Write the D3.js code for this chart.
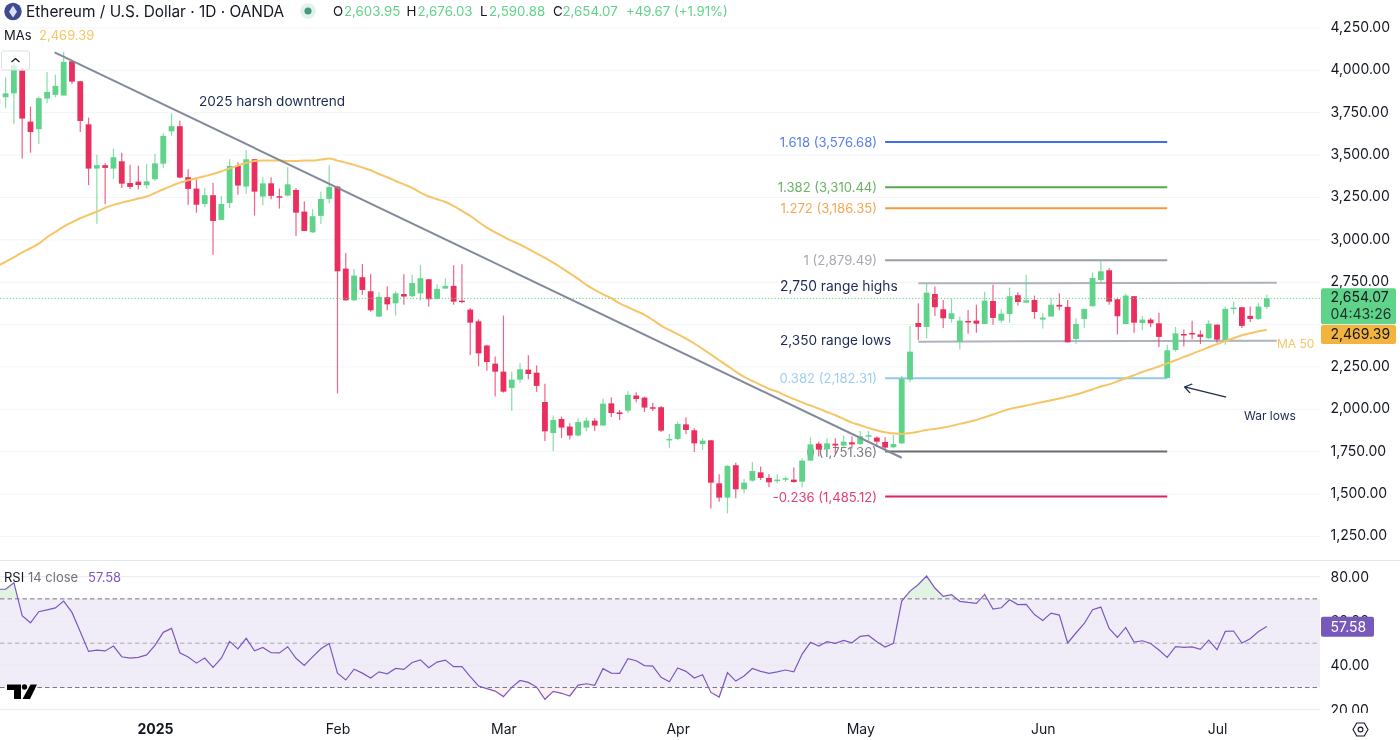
<!DOCTYPE html>
<html>
<head>
<meta charset="utf-8">
<title>ETHUSD</title>
<script src="https://cdn.jsdelivr.net/npm/d3@7"></script>
<style>
    html, body { margin: 0; padding: 0; background: #fff; overflow: hidden; }
    svg { display: block; font-family: Inter, "Noto Sans", sans-serif; filter: blur(0.3px); }
</style>
</head>
<body>
<div id="chart"></div>
<script>
// One value per daily bar. The first bar sits just off the left edge.
const opens = [3800,
    3841,3864,3998,3697,3652,3833,3855,3851,4053,3935,
    3681,3420,3440,3420,3463,3335,3343,3322,3357,3449,
    3640,3670,3369,3302,3211,3263,3117,3217,3436,3314,
    3475,3255,3333,3257,3261,3294,3166,3044,3141,3241,
    3314,2830,2643,2779,2696,2547,2661,2625,2680,2667,
    2684,2767,2651,2712,2728,2641,2588,2519,2376,2269,
    2222,2126,2175,2234,2216,2043,1860,1943,1898,1845,
    1892,1933,1904,2035,1982,1992,2081,2069,2012,2012,
    1821,1825,1911,1876,1795,1817,1563,1479,1670,1528,
    1579,1628,1595,1581,1585,1585,1573,1697,1797,1764,
    1797,1786,1805,1795,1841,1833,1807,1776,1799,2175,
    2509,2486,2680,2590,2533,2397,2521,2523,2503,2639,
    2523,2562,2673,2629,2645,2529,2547,2616,2604,2415,
    2533,2608,2763,2820,2649,2503,2667,2509,2529,2507,
    2185,2350,2444,2450,2442,2419,2499,2407,2594,2602,
    2551,2533,2603.95];

const highs = [3880,
    3959,4091,4016,3786,3845,3990,3973,4110,4061,3937,
    3721,3501,3451,3538,3514,3442,3436,3447,3506,3628,
    3746,3703,3416,3357,3304,3337,3259,3475,3457,3528,
    3475,3369,3369,3302,3428,3306,3227,3180,3284,3440,
    3318,2922,2828,2857,2798,2692,2726,2696,2796,2793,
    2852,2767,2737,2773,2850,2855,2598,2531,2380,2311,
    2553,2222,2271,2319,2258,2151,1963,1957,1917,1945,
    1953,1947,2063,2069,1996,2106,2100,2075,2039,2020,
    1854,1927,1953,1888,1829,1819,1616,1670,1685,1589,
    1689,1662,1616,1616,1603,1656,1711,1835,1809,1829,
    1829,1845,1839,1872,1872,1839,1835,1849,2197,2492,
    2625,2743,2724,2645,2653,2547,2586,2617,2694,2734,
    2590,2718,2690,2793,2671,2566,2655,2684,2645,2537,
    2592,2808,2881,2834,2659,2682,2669,2551,2539,2570,
    2380,2486,2470,2523,2466,2525,2501,2606,2635,2604,
    2606,2629,2676.03];

const lows = [3760,
    3776,3681,3479,3514,3565,3805,3841,3851,3919,3636,
    3322,3095,3211,3357,3306,3300,3298,3302,3347,3422,
    3613,3363,3207,3160,3192,2911,3115,3188,3266,3272,
    3143,3202,3239,3184,3255,3023,3052,3040,3093,3215,
    2094,2641,2639,2676,2576,2543,2584,2553,2616,2663,
    2643,2606,2649,2710,2617,2625,2320,2254,2228,2075,
    2098,1992,2157,2177,2104,1813,1754,1831,1821,1839,
    1870,1872,1902,1955,1937,1978,2041,1984,1990,1866,
    1770,1819,1854,1750,1760,1414,1455,1386,1475,1504,
    1573,1583,1540,1563,1571,1567,1540,1697,1721,1731,
    1736,1770,1770,1790,1815,1790,1756,1770,1795,2159,
    2409,2419,2551,2480,2511,2352,2446,2452,2503,2499,
    2511,2511,2612,2625,2533,2476,2547,2584,2395,2387,
    2478,2606,2743,2616,2442,2501,2452,2468,2484,2368,
    2183,2340,2370,2413,2385,2415,2393,2380,2560,2480,
    2515,2527,2590.88];

const closes = [3830,
    3864,4028,3715,3636,3835,3872,3908,4049,3933,3701,
    3420,3440,3424,3487,3331,3312,3323,3345,3451,3613,
    3670,3367,3300,3207,3263,3111,3211,3436,3320,3475,
    3284,3333,3259,3251,3327,3160,3052,3139,3241,3312,
    2814,2643,2789,2704,2584,2663,2619,2684,2665,2745,
    2773,2649,2710,2728,2635,2633,2511,2330,2279,2222,
    2104,2175,2236,2208,2138,1870,1937,1892,1845,1925,
    1933,1904,2033,1978,1972,2085,2061,2010,2008,1874,
    1825,1913,1878,1799,1815,1567,1479,1666,1528,1567,
    1636,1595,1569,1585,1593,1571,1697,1793,1762,1799,
    1786,1809,1793,1841,1847,1809,1774,1795,2179,2340,
    2486,2688,2602,2537,2566,2523,2515,2505,2641,2539,
    2564,2667,2633,2643,2574,2541,2617,2606,2395,2503,
    2592,2775,2814,2635,2549,2671,2511,2529,2507,2427,
    2348,2448,2437,2444,2427,2505,2411,2592,2600,2492,
    2533,2606,2654.07];

const ma50 = [2846,
    2869,2897,2926,2950,2977,3015,3046,3078,3103,3127,
    3147,3166,3188,3206,3219,3231,3243,3255,3276,3298,
    3318,3337,3351,3363,3375,3388,3404,3420,3438,3453,
    3465,3467,3467,3467,3465,3465,3467,3467,3473,3479,
    3467,3455,3442,3426,3410,3388,3369,3347,3327,3306,
    3278,3255,3239,3223,3198,3170,3141,3105,3072,3044,
    3019,2993,2972,2946,2920,2893,2865,2834,2802,2769,
    2734,2704,2678,2655,2625,2602,2580,2557,2527,2494,
    2468,2443,2417,2388,2356,2323,2289,2256,2222,2191,
    2167,2144,2120,2104,2081,2061,2041,2022,2004,1984,
    1965,1943,1921,1906,1890,1876,1864,1858,1854,1860,
    1868,1878,1884,1892,1902,1914,1925,1937,1953,1969,
    1986,2002,2012,2022,2033,2043,2053,2063,2075,2087,
    2102,2118,2134,2147,2165,2183,2201,2220,2236,2252,
    2271,2289,2309,2327,2346,2366,2384,2403,2419,2437,
    2448,2460,2469.39];

const rsi = [74.3,
    74.4,77.3,62.4,59.2,64.2,65.0,65.9,69.0,63.9,55.2,
    46.3,46.9,46.5,48.7,43.9,43.3,43.6,44.7,49.0,54.9,
    56.7,45.7,43.8,41.0,43.3,39.1,43.2,50.8,47.4,52.2,
    46.6,48.1,45.7,45.6,48.4,43.2,40.0,43.8,47.5,49.9,
    36.5,33.4,38.3,36.5,34.3,37.1,36.2,38.6,38.2,41.3,
    42.5,38.9,41.5,42.4,39.4,39.4,34.9,30.7,29.5,28.4,
    25.9,30.1,33.2,32.3,30.2,24.7,28.3,27.4,26.2,31.1,
    31.7,31.0,38.5,36.5,36.4,43.0,42.1,39.9,39.7,34.6,
    32.6,38.8,37.3,34.3,35.8,27.8,25.7,36.7,32.9,35.2,
    38.6,37.3,36.4,37.1,37.9,37.1,45.1,50.4,48.7,50.7,
    49.9,51.3,50.2,53.1,53.5,50.7,48.3,49.9,69.0,73.5,
    76.5,80.3,74.9,71.1,71.9,68.9,68.4,68.0,72.0,65.4,
    66.0,69.6,67.4,67.5,62.9,60.3,63.6,62.7,50.1,54.6,
    58.9,65.1,66.3,56.7,52.6,57.1,50.5,51.1,49.9,46.9,
    43.6,48.4,48.1,48.3,47.2,51.4,47.1,55.3,55.5,50.1,
    52.0,55.3,57.58];

const priceGridTicks = [1250, 1500, 1750, 2000, 2250, 2500, 2750, 3000, 3250, 3500, 3750, 4000, 4250];
// 2,500.00 sits behind the price tags, so it gets a grid line but no label
const priceLabelTicks = [1250, 1500, 1750, 2000, 2250, 2750, 3000, 3250, 3500, 3750, 4000, 4250];
const rsiTicks = [20, 40, 60, 80];
const rsiBands = [30, 50, 70];
const timeBars = [19, 41, 61, 82, 104, 126, 147];
const timeLabels = ["2025", "Feb", "Mar", "Apr", "May", "Jun", "Jul"];

const fibLevels = ["1.618", "1.382", "1.272", "1", "0.382", "0", "-0.236"];
const fibPrices = [3576.68, 3310.44, 3186.35, 2879.49, 2182.31, 1751.36, 1485.12];
const fibBars = [107, 141];

const trendBars = [6.9, 109];
const trendPrices = [4106, 1714];
const rangeBars = [111, 154.2];
const rangeHighPrices = [2743, 2747];
const rangeLowPrices = [2399, 2405];
const arrowBars = [148.1, 143.1];
const arrowPrices = [2071, 2132];

const ohlcNames = ["O", "H", "L", "C"];
const ohlcValues = ["2,603.95", "2,676.03", "2,590.88", "2,654.07"];

const colors = {
    up: "#5fd38a",
    down: "#ea2f5e",
    ma: "#f6c566",
    maTag: "#f2b43f",
    trend: "#828a9c",
    range: "#adb2c0",
    navy: "#1c2a52",
    text: "#131722",
    grid: "#f3f4f6",
    rsi: "#7e57c2",
    fib: ["#3f6ee8", "#55a84f", "#f59a3c", "#9a9da6", "#8fc8ea", "#6b6d74", "#e0245e"]
};

const width = 1400;
const height = 740;
const plotRight = 1320;
const mainBottom = 560;
const rsiBottom = 713;

const x = d3.scaleLinear().domain([0, 153]).range([-2.7, 1266.8]);
const y = d3.scaleLinear().domain([1250, 4250]).range([536.4, 27.9]);
const yRsi = d3.scaleLinear().domain([20, 80]).range([709.7, 576.7]);

const svg = d3.select("#chart").append("svg")
    .attr("width", width)
    .attr("height", height);

const defs = svg.append("defs");
addClip("clip-main", 0, 0, plotRight, mainBottom);
addClip("clip-rsi", 0, mainBottom + 1, plotRight, rsiBottom - mainBottom - 1);
addClip("clip-rsi-high", 0, mainBottom + 1, plotRight, yRsi(70) - mainBottom - 1);
addClip("clip-rsi-low", 0, yRsi(30), plotRight, rsiBottom - yRsi(30));
addClip("clip-rsi-axis", plotRight, mainBottom + 1, width - plotRight, rsiBottom - mainBottom - 1);

defs.append("marker")
    .attr("id", "arrow-head")
    .attr("viewBox", "0 0 10 10")
    .attr("refX", 9)
    .attr("refY", 5)
    .attr("markerWidth", 10)
    .attr("markerHeight", 10)
    .attr("markerUnits", "userSpaceOnUse")
    .attr("orient", "auto")
    .append("path")
    .attr("d", "M2,0 L9,5 L2,10")
    .attr("fill", "none")
    .attr("stroke", colors.navy)
    .attr("stroke-width", 1.3);

function addClip(id, left, top, w, h) {
    defs.append("clipPath").attr("id", id).append("rect")
        .attr("x", left).attr("y", top).attr("width", w).attr("height", h);
}

function addText(parent, left, top, str, size, fill, anchor) {
    return parent.append("text")
        .attr("x", left)
        .attr("y", top)
        .attr("dy", "0.35em")
        .attr("font-size", size)
        .attr("fill", fill)
        .attr("text-anchor", anchor || "start")
        .text(str);
}

function drawPriceGrid() {
    svg.append("g").selectAll("line").data(priceGridTicks).join("line")
        .attr("x1", 0).attr("x2", plotRight)
        .attr("y1", d => y(d)).attr("y2", d => y(d))
        .attr("stroke", colors.grid);

    svg.append("line")
        .attr("x1", 0).attr("x2", width)
        .attr("y1", mainBottom + 0.5).attr("y2", mainBottom + 0.5)
        .attr("stroke", "#e6e7ea");
}

function drawFibs() {
    const g = svg.append("g");

    fibPrices.forEach((price, i) => {
        g.append("line")
            .attr("x1", x(fibBars[0])).attr("x2", x(fibBars[1]))
            .attr("y1", y(price)).attr("y2", y(price))
            .attr("stroke", colors.fib[i])
            .attr("stroke-width", 2);

        addText(g, x(fibBars[0]) - 8, y(price) + 0.5, `${fibLevels[i]} (${d3.format(",.2f")(price)})`, 13.1, colors.fib[i], "end")
            .attr("fill-opacity", 0.88);
    });
}

function drawRangeLines() {
    const g = svg.append("g");
    [rangeHighPrices, rangeLowPrices].forEach(prices => {
        g.append("line")
            .attr("x1", x(rangeBars[0])).attr("x2", x(rangeBars[1]))
            .attr("y1", y(prices[0])).attr("y2", y(prices[1]))
            .attr("stroke", colors.range)
            .attr("stroke-width", 2);
    });
}

function drawCandles() {
    const g = svg.append("g").attr("clip-path", "url(#clip-main)");
    const bars = d3.range(closes.length);
    const barColor = i => closes[i] >= opens[i] ? colors.up : colors.down;

    g.selectAll(".wick").data(bars).join("line")
        .attr("class", "wick")
        .attr("x1", i => x(i)).attr("x2", i => x(i))
        .attr("y1", i => y(highs[i])).attr("y2", i => y(lows[i]))
        .attr("stroke", barColor)
        .attr("stroke-opacity", 0.75)
        .attr("stroke-width", 1.2);

    g.selectAll(".body").data(bars).join("rect")
        .attr("class", "body")
        .attr("x", i => x(i) - 2.9)
        .attr("width", 5.8)
        .attr("y", i => y(Math.max(opens[i], closes[i])))
        .attr("height", i => Math.max(1.5, Math.abs(y(opens[i]) - y(closes[i]))))
        .attr("fill", barColor);
}

function drawOverlays() {
    const g = svg.append("g").attr("clip-path", "url(#clip-main)");
    const lastClose = closes[closes.length - 1];

    g.append("line")
        .attr("x1", 0).attr("x2", plotRight)
        .attr("y1", y(lastClose)).attr("y2", y(lastClose))
        .attr("stroke", colors.up)
        .attr("stroke-dasharray", "1.2 2");

    g.append("path")
        .datum(ma50)
        .attr("fill", "none")
        .attr("stroke", colors.ma)
        .attr("stroke-width", 2)
        .attr("d", d3.line().x((d, i) => x(i)).y(d => y(d)).curve(d3.curveMonotoneX));

    g.append("line")
        .attr("x1", x(trendBars[0])).attr("x2", x(trendBars[1]))
        .attr("y1", y(trendPrices[0])).attr("y2", y(trendPrices[1]))
        .attr("stroke", colors.trend)
        .attr("stroke-width", 2);

    g.append("line")
        .attr("x1", x(arrowBars[0])).attr("x2", x(arrowBars[1]))
        .attr("y1", y(arrowPrices[0])).attr("y2", y(arrowPrices[1]))
        .attr("stroke", colors.navy)
        .attr("stroke-width", 1.3)
        .attr("marker-end", "url(#arrow-head)");

    addText(g, 199, 101, "2025 harsh downtrend", 13.6, colors.navy);
    addText(g, 780, 286, "2,750 range highs", 13.8, colors.navy);
    addText(g, 780, 340, "2,350 range lows", 13.6, colors.navy);
    addText(g, 1244, 415.5, "War lows", 12, colors.navy);
    addText(g, 1277, 344, "MA 50", 12, colors.ma);
}

function drawRsiPane() {
    const g = svg.append("g").attr("clip-path", "url(#clip-rsi)");

    g.append("rect")
        .attr("x", 0).attr("width", plotRight)
        .attr("y", yRsi(70)).attr("height", yRsi(30) - yRsi(70))
        .attr("fill", colors.rsi)
        .attr("fill-opacity", 0.11);

    g.selectAll(".rsi-grid").data(rsiTicks).join("line")
        .attr("class", "rsi-grid")
        .attr("x1", 0).attr("x2", plotRight)
        .attr("y1", d => yRsi(d)).attr("y2", d => yRsi(d))
        .attr("stroke", "#eae9ef");

    g.selectAll(".rsi-band").data(rsiBands).join("line")
        .attr("class", "rsi-band")
        .attr("x1", 0).attr("x2", plotRight)
        .attr("y1", d => yRsi(d)).attr("y2", d => yRsi(d))
        .attr("stroke", d => d === 50 ? "#a9a9b2" : "#77767f")
        .attr("stroke-dasharray", "4.5 3");

    const lineX = (d, i) => x(i);

    svg.append("path")
        .datum(rsi)
        .attr("clip-path", "url(#clip-rsi-high)")
        .attr("fill", "#4caf50")
        .attr("fill-opacity", 0.16)
        .attr("d", d3.area().x(lineX).y0(yRsi(70)).y1(d => yRsi(d)));

    svg.append("path")
        .datum(rsi)
        .attr("clip-path", "url(#clip-rsi-low)")
        .attr("fill", "#f23645")
        .attr("fill-opacity", 0.08)
        .attr("d", d3.area().x(lineX).y0(yRsi(30)).y1(d => yRsi(d)));

    svg.append("path")
        .datum(rsi)
        .attr("clip-path", "url(#clip-rsi)")
        .attr("fill", "none")
        .attr("stroke", colors.rsi)
        .attr("stroke-width", 1.2)
        .attr("d", d3.line().x(lineX).y(d => yRsi(d)));
}

function drawAxes() {
    const priceAxis = d3.axisRight(y)
        .tickValues(priceLabelTicks)
        .tickSize(0)
        .tickPadding(0)
        .tickFormat(d3.format(",.2f"));

    const rsiAxis = d3.axisRight(yRsi)
        .tickValues(rsiTicks)
        .tickSize(0)
        .tickPadding(0)
        .tickFormat(d3.format(".2f"));

    const timeAxis = d3.axisBottom(x)
        .tickValues(timeBars)
        .tickSize(0)
        .tickPadding(0)
        .tickFormat((d, i) => timeLabels[i]);

    const styleAxis = g => {
        g.select(".domain").remove();
        g.selectAll("text")
            .attr("fill", colors.text)
            .attr("font-family", "Inter, sans-serif")
            .attr("font-size", 14);
    };

    svg.append("g")
        .attr("transform", "translate(1330.5, -1)")
        .call(priceAxis)
        .call(styleAxis);

    svg.append("g").attr("clip-path", "url(#clip-rsi-axis)").append("g")
        .attr("transform", "translate(1330.5, 0)")
        .call(rsiAxis)
        .call(styleAxis);

    svg.append("g")
        .attr("transform", "translate(0, 724)")
        .call(timeAxis)
        .call(styleAxis)
        .selectAll("text")
        .attr("y", 0)
        .attr("dy", "0.71em")
        .attr("font-weight", (d, i) => i === 0 ? 700 : 400);
}

function drawPriceTags() {
    const g = svg.append("g");
    const rightX = 1321;

    g.append("rect").attr("x", rightX).attr("y", 288.3).attr("width", 75).attr("height", 36).attr("rx", 2).attr("fill", colors.up);
    addText(g, 1330.5, 297.5, "2,654.07", 14, colors.text);
    addText(g, 1330.5, 314, "04:43:26", 14, "#20352a");

    g.append("rect").attr("x", rightX).attr("y", 325).attr("width", 75).attr("height", 19).attr("rx", 2).attr("fill", colors.maTag);
    addText(g, 1330.5, 334.5, "2,469.39", 14, colors.text);

    g.append("rect").attr("x", rightX).attr("y", 616.7).attr("width", 53).attr("height", 20).attr("rx", 2).attr("fill", "#7659bb");
    addText(g, 1330.5, 627, "57.58", 14, "#ffffff");
}

function drawHeader() {
    const g = svg.append("g");

    g.append("circle").attr("cx", 13).attr("cy", 11.5).attr("r", 8.7).attr("fill", "#3d4a8f");
    g.append("path")
        .attr("d", "M13,5.5 L17,11.8 L13,17.5 L9,11.8 Z")
        .attr("fill", "#d8def5");
    addText(g, 26, 11.5, "Ethereum / U.S. Dollar · 1D · OANDA", 15.4, colors.text);

    g.append("circle").attr("cx", 308).attr("cy", 11).attr("r", 7.8).attr("fill", "#e3f1ed");
    g.append("circle").attr("cx", 308).attr("cy", 11).attr("r", 3.6).attr("fill", "#429a80");

    const nameX = [333, 406.5, 480, 553];
    ohlcNames.forEach((name, i) => {
        addText(g, nameX[i], 11.5, name, 13.3, colors.text);
        addText(g, nameX[i] + (name === "L" ? 9 : name === "C" ? 9.5 : 11), 11.5, ohlcValues[i], 13.3, colors.up);
    });
    addText(g, 626, 11.5, "+49.67 (+1.91%)", 13.2, colors.up);

    addText(g, 4, 35, "MAs", 13, colors.text);
    addText(g, 39, 35, "2,469.39", 13, colors.ma);

    g.append("rect")
        .attr("x", 1.5).attr("y", 51).attr("width", 28).attr("height", 19).attr("rx", 2)
        .attr("fill", "#ffffff").attr("fill-opacity", 0.75)
        .attr("stroke", "#dedfe3");
    g.append("path")
        .attr("d", "M11.5,62 L15.5,58.5 L19.5,62")
        .attr("fill", "none")
        .attr("stroke", colors.text)
        .attr("stroke-width", 1.2);

    addText(g, 4, 577.5, "RSI", 13, colors.text);
    addText(g, 28, 577.5, "14 close", 13, "#6f727c");
    addText(g, 88, 577.5, "57.58", 13, colors.rsi);
}

function drawIcons() {
    const logo = svg.append("g")
        .attr("fill", "#000")
        .attr("stroke", "#fff")
        .attr("stroke-width", 1)
        .attr("paint-order", "stroke");
    logo.append("path").attr("d", "M7,684.5 H21 V699 H14 V690 H7 Z");
    logo.append("circle").attr("cx", 24.5).attr("cy", 687).attr("r", 2.7);
    logo.append("path").attr("d", "M30.5,684.5 H37 L30,699 H22.5 Z");

    const hexagon = d3.range(6).map(k => {
        const a = Math.PI / 3 * k;
        return [1360.5 + 7.5 * Math.cos(a), 729.5 + 7.5 * Math.sin(a)];
    });
    svg.append("path")
        .attr("d", d3.line()(hexagon) + "Z")
        .attr("fill", "none")
        .attr("stroke", colors.text)
        .attr("stroke-width", 1.1);
    svg.append("circle")
        .attr("cx", 1360.5).attr("cy", 729.5).attr("r", 2.4)
        .attr("fill", "none")
        .attr("stroke", colors.text)
        .attr("stroke-width", 1.1);
}

drawPriceGrid();
drawFibs();
drawRangeLines();
drawCandles();
drawOverlays();
drawRsiPane();
drawIcons();
drawAxes();
drawPriceTags();
drawHeader();
</script>
</body>
</html>
